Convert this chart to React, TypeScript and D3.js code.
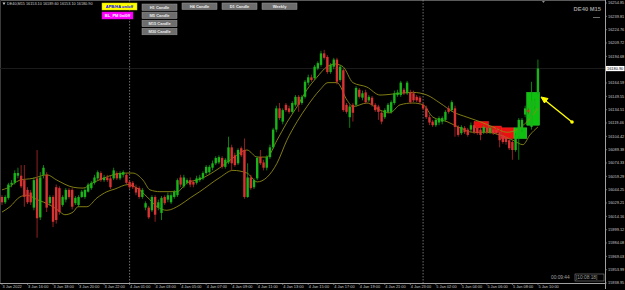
import React from 'react';
import * as d3 from 'd3';

// ---------- DATA ----------
const symbolInfo = 'DE40,M15  16153.10 16189.60 16153.10 16180.90';
const chartTitle = 'DE40 M15';
const timerText = '00:09:44';
const serverTime = '[10:08:18]';

// [open, high, low, close], M15 bars from 3 Jan 2022 14:00 to 5 Jan 2022 10:00
const ohlc: number[][] = [
  [16036,16038,16027,16030],[16030,16038,16028,16036],[16035,16052,16033,16050],[16050,16055,16047,16052],
  [16052,16066,16050,16063],[16060,16069,16057,16063],[16060,16072,16046,16048],[16055,16072,16025,16036],
  [16044,16047,16028,16030],[16041,16044,16027,16030],[16024,16058,16021,16055],[16057,16089,15990,16012],
  [16013,16064,16010,16058],[16061,16072,16057,16069],[16061,16064,16019,16024],[16029,16038,16026,16036],
  [16036,16038,16002,16008],[16047,16050,16006,16010],[16046,16048,16016,16019],[16027,16038,16025,16036],
  [16033,16046,16030,16044],[16044,16046,16034,16036],[16044,16046,16022,16025],[16029,16037,16027,16035],
  [16027,16038,16025,16036],[16036,16044,16035,16042],[16036,16046,16034,16044],[16042,16052,16041,16050],
  [16046,16054,16044,16052],[16052,16061,16050,16058],[16057,16066,16055,16064],[16063,16065,16053,16055],
  [16055,16061,16053,16058],[16058,16061,16053,16055],[16057,16060,16045,16047],[16057,16069,16055,16066],
  [16063,16065,16055,16057],[16057,16065,16055,16063],[16061,16066,16058,16064],[16061,16063,16050,16052],
  [16053,16055,16045,16047],[16052,16054,16045,16047],[16047,16050,16038,16041],[16046,16048,16034,16036],
  [16036,16046,16034,16044],[16024,16031,16021,16029],[16024,16026,16011,16013],[16021,16038,16019,16036],
  [16036,16038,16008,16016],[16024,16033,16021,16030],[16018,16037,16010,16035],[16036,16038,16027,16029],
  [16033,16041,16030,16038],[16030,16041,16028,16038],[16036,16044,16034,16042],[16038,16057,16036,16055],
  [16058,16061,16047,16050],[16048,16061,16046,16058],[16052,16057,16050,16055],[16055,16058,16047,16050],
  [16053,16055,16047,16050],[16052,16060,16050,16057],[16055,16061,16053,16058],[16057,16065,16055,16063],
  [16063,16072,16061,16070],[16064,16072,16062,16070],[16069,16077,16066,16074],[16074,16082,16072,16080],
  [16075,16083,16073,16081],[16080,16082,16068,16070],[16070,16080,16068,16078],[16075,16104,16073,16092],
  [16092,16095,16066,16074],[16083,16086,16070,16072],[16074,16091,16072,16089],[16091,16093,16081,16083],
  [16089,16102,16034,16036],[16036,16074,16035,16058],[16058,16061,16044,16046],[16047,16057,16045,16055],
  [16057,16082,16055,16080],[16081,16089,16072,16074],[16075,16078,16066,16069],[16069,16083,16066,16081],
  [16081,16095,16079,16092],[16092,16114,16090,16112],[16112,16139,16109,16136],[16136,16142,16123,16125],
  [16121,16136,16118,16134],[16140,16142,16132,16134],[16136,16139,16130,16132],[16132,16144,16130,16142],
  [16140,16151,16138,16149],[16149,16151,16132,16140],[16142,16151,16140,16149],[16149,16168,16147,16166],
  [16165,16174,16162,16171],[16171,16174,16166,16168],[16170,16185,16168,16183],[16181,16189,16179,16187],
  [16185,16201,16183,16198],[16198,16202,16191,16193],[16194,16196,16175,16177],[16177,16187,16175,16185],
  [16183,16193,16180,16191],[16191,16193,16163,16166],[16168,16185,16166,16183],[16179,16181,16132,16134],
  [16140,16142,16130,16132],[16126,16140,16114,16138],[16140,16142,16121,16131],[16140,16161,16138,16159],
  [16157,16159,16147,16149],[16148,16156,16145,16153],[16154,16157,16141,16143],[16145,16151,16143,16149],
  [16148,16150,16138,16140],[16140,16142,16132,16134],[16138,16140,16123,16132],[16131,16133,16118,16121],
  [16126,16136,16124,16134],[16132,16142,16130,16140],[16132,16145,16130,16143],[16142,16156,16140,16153],
  [16151,16157,16149,16154],[16151,16167,16149,16165],[16157,16159,16151,16153],[16153,16167,16151,16165],
  [16154,16157,16141,16143],[16153,16156,16143,16145],[16149,16151,16143,16145],[16148,16150,16141,16143],
  [16140,16142,16134,16136],[16136,16139,16124,16126],[16126,16129,16117,16120],[16121,16123,16115,16117],
  [16117,16125,16115,16123],[16120,16127,16117,16125],[16121,16127,16118,16125],[16123,16134,16121,16132],
  [16136,16139,16130,16132],[16134,16145,16132,16143],[16136,16139,16104,16115],[16115,16117,16104,16106],
  [16108,16117,16106,16115],[16114,16116,16107,16109],[16112,16114,16104,16106],[16112,16120,16109,16117],
  [16117,16120,16107,16109],[16114,16116,16106,16108],[16112,16114,16100,16106],[16109,16117,16107,16115],
  [16114,16116,16107,16109],[16109,16116,16107,16114],[16112,16114,16106,16108],[16112,16114,16106,16108],
  [16109,16112,16092,16100],[16106,16108,16096,16098],[16104,16106,16095,16098],[16100,16102,16089,16091],
  [16098,16100,16078,16089],[16089,16108,16087,16106],[16104,16125,16078,16123],[16112,16125,16109,16123],
  [16129,16139,16126,16136],[16134,16136,16130,16132],[16115,16166,16112,16145],[16138,16147,16135,16145],
  [16154,16191,16152,16180.9],
];

// [bar index, price]
const upperMA: number[][] = [
  [0,16044],[1.6,16046],[5.6,16055],[9.7,16057],[14.1,16061],[17.2,16055],[22.3,16047],[25.4,16046],
  [28.5,16052],[31.7,16057],[34.8,16061],[39.2,16063],[41,16063],[44.2,16055],[46.4,16044],[49.5,16042],
  [54.9,16042],[58,16052],[62,16056],[68.3,16069],[72.4,16080],[76.8,16089],[80,16081],[83,16081],
  [86.2,16100],[89.3,16120],[92.5,16138],[95.6,16157],[98.7,16171],[101.9,16183],[104.4,16186],[106.9,16183],
  [110,16165],[114.4,16160],[118.5,16151],[124.8,16153],[128.8,16154],[133.2,16151],[137.3,16142],[141.4,16132],
  [145.8,16126],[149.8,16121],[153.9,16115],[158.3,16109],[161.4,16112],[164.6,16121],[168,16136],
];
const lowerMA: number[][] = [
  [0,16019],[2.5,16025],[5.6,16036],[7.8,16038],[11,16033],[15,16027],[17.6,16021],[19.7,16016],
  [22.3,16019],[23.8,16025],[26.6,16025],[29.8,16035],[32.9,16042],[35.4,16045],[39.5,16050],[42.3,16046],
  [45.5,16036],[48.6,16025],[51.7,16021],[55.8,16027],[59,16035],[62,16042],[68.3,16058],[72.4,16066],
  [76.8,16063],[80,16053],[83,16058],[86.2,16074],[89.3,16100],[92.5,16121],[95.6,16138],[99.7,16157],
  [102.2,16165],[105,16165],[108.2,16145],[110,16138],[114.4,16142],[118.5,16134],[121.6,16131],[124.8,16140],
  [128.8,16142],[132,16140],[135.1,16126],[139.5,16121],[143.6,16114],[147.6,16109],[152,16109],[156,16106],
  [160.2,16100],[163.3,16095],[165.5,16106],[168,16115],
];

// H1 candle boxes: [first bar, last bar, open, close]
const hourBoxes: number[][] = [
  [148,152.5,16121,16114],[152.5,156.5,16116,16109],[156.5,160.5,16114,16102],
  [160.5,164.5,16102,16114],[164.5,168.5,16117,16154],
];

const timeLabels = ['3 Jan 2022','3 Jan 16:00','3 Jan 18:00','3 Jan 20:00','3 Jan 22:00','4 Jan 01:00',
  '4 Jan 03:00','4 Jan 05:00','4 Jan 07:00','4 Jan 09:00','4 Jan 11:00','4 Jan 13:00','4 Jan 15:00',
  '4 Jan 17:00','4 Jan 19:00','4 Jan 21:00','4 Jan 23:00','5 Jan 02:00','5 Jan 04:00','5 Jan 06:00',
  '5 Jan 08:00','5 Jan 10:00'];
const timeLabelBars = [0,8,16,24,32,40,48,56,64,72,80,88,96,104,112,120,128,136,144,152,160,168];
const daySeparators = [40,132];

const priceTicks = [16254.85,16239.81,16224.76,16209.72,16194.68,16179.63,16164.59,16149.55,16134.51,
  16119.46,16104.42,16089.38,16074.33,16059.29,16044.25,16029.21,16014.16,15999.12,15984.08,15969.03,
  15953.99,15938.95];

const leftButtons = ['APB/HA on/off','BL_PM 0n/0ff'];
const candleButtons = ['H1 Candle','M5 Candle','M15 Candle','M30 Candle'];
const topButtons = ['H4 Candle','D1 Candle','Weekly'];

// ---------- LAYOUT ----------
const W = 625, H = 290;
const axisX = 605, axisY = 283;
const FONT = '"Liberation Sans", Arial, sans-serif';

const x = d3.scaleLinear().domain([0, 168]).range([2, 2 + 3.19 * 168]);
const y = d3.scaleLinear().domain([15938.95, 16254.85]).range([283, 3]);

const GREEN = '#19b419', GREEN_W = '#11a011';
const RED = '#d83232', RED_W = '#b82828';
const MA_COL = '#8e8a16';

export default function App() {
  const lineGen = d3.line<number[]>().x(d => x(d[0])).y(d => y(d[1])).curve(d3.curveMonotoneX);
  const last = ohlc[ohlc.length - 1][3];
  const bw = 2.4;
  return (
    <svg width={W} height={H} style={{ position: 'absolute', left: 0, top: 0, background: '#000' }}
      fontFamily={FONT}>
      <rect x={0} y={0} width={W} height={H} fill="#000" />
      {/* frame */}
      <line x1={0} y1={0.5} x2={axisX} y2={0.5} stroke="#5a5a5a" strokeWidth={1} />
      <line x1={0.5} y1={0} x2={0.5} y2={axisY} stroke="#3a3a3a" strokeWidth={1} />
      {/* bid line */}
      <line x1={0} x2={axisX} y1={y(last)} y2={y(last)} stroke="#1c1c1c" strokeWidth={1} />
      {/* day separators */}
      {daySeparators.map(b => (
        <line key={b} x1={x(b)} x2={x(b)} y1={0} y2={axisY} stroke="#8a8a8a" strokeWidth={0.8}
          strokeDasharray="1.5,1.5" />
      ))}
      {/* hour boxes */}
      {hourBoxes.map((b, i) => {
        const up = b[3] > b[2];
        return (
          <rect key={i} x={x(b[0])} width={x(b[1]) - x(b[0])} y={y(Math.max(b[2], b[3]))}
            height={Math.abs(y(b[2]) - y(b[3]))} fill={up ? '#10c010' : '#ee1010'}
            stroke={up ? '#30e030' : '#ff3030'} strokeWidth={0.5} />
        );
      })}
      {/* MA lines */}
      <path d={lineGen(upperMA) || ''} fill="none" stroke={MA_COL} strokeWidth={0.9} />
      <path d={lineGen(lowerMA) || ''} fill="none" stroke={MA_COL} strokeWidth={0.9} />
      {/* candles */}
      {ohlc.map((d, i) => {
        const [o, h, l, c] = d;
        const up = c >= o;
        const top = y(Math.max(o, c));
        const hgt = Math.max(1, Math.abs(y(o) - y(c)));
        return (
          <g key={i}>
            <line x1={x(i)} x2={x(i)} y1={y(h)} y2={y(l)} stroke={up ? GREEN_W : RED_W} strokeWidth={0.8} />
            <rect x={x(i) - bw / 2} y={top} width={bw} height={hgt} fill={up ? GREEN : RED} />
          </g>
        );
      })}
      {/* yellow arrow */}
      <line x1={572} y1={122} x2={544} y2={99.5} stroke="#ffff00" strokeWidth={1.4} />
      <path d="M541,97 L548,98.5 L544.5,103 Z" fill="#ffff00" stroke="#ffff00" strokeWidth={1} />
      <circle cx={572} cy={122} r={1.8} fill="#ffff00" />
      {/* axes */}
      <line x1={axisX + 0.5} x2={axisX + 0.5} y1={0} y2={axisY + 6} stroke="#a0a0a0" strokeWidth={1} />
      <line x1={0} x2={axisX} y1={axisY + 0.5} y2={axisY + 0.5} stroke="#a0a0a0" strokeWidth={1} />
      {priceTicks.map((p, k) => (
        <g key={k}>
          <line x1={axisX} x2={axisX + 2} y1={y(p)} y2={y(p)} stroke="#a0a0a0" strokeWidth={0.6} />
          <text x={axisX + 3} y={y(p) + 1.4} fontSize={3.9} fill="#c8c8c8">{p.toFixed(2)}</text>
        </g>
      ))}
      <rect x={axisX + 1} y={y(last) - 2.6} width={18.5} height={5.2} fill="#ffffff" />
      <text x={axisX + 2} y={y(last) + 1.4} fontSize={3.9} fill="#000">{last.toFixed(2)}</text>
      {timeLabels.map((t, k) => (
        <g key={t}>
          <line x1={x(timeLabelBars[k])} x2={x(timeLabelBars[k])} y1={axisY} y2={axisY + 2} stroke="#a0a0a0" strokeWidth={0.6} />
          <text x={x(timeLabelBars[k]) + 0.5} y={axisY + 5} fontSize={3.9} fill="#c8c8c8">{t}</text>
        </g>
      ))}
      {/* shift marker */}
      <path d={`M${x(168) + 4},1 L${x(168) + 7},1 L${x(168) + 5.5},3 Z`} fill="#8a8a8a" />
      {/* header text */}
      <path d="M2.5,2.5 L5.5,2.5 L4,5 Z" fill="#c8c8c8" />
      <text x={7} y={5.3} fontSize={3.8} fill="#d0d0d0">{symbolInfo}</text>
      {leftButtons.map((b, k) => (
        <g key={b}>
          <rect x={102} y={3 + k * 9} width={k === 0 ? 35 : 31} height={7} fill={k === 0 ? '#ffff00' : '#ff00ff'}
            stroke={k === 0 ? '#d0d000' : '#d000d0'} strokeWidth={0.5} />
          <text x={102 + (k === 0 ? 17.5 : 15.5)} y={7.8 + k * 9} fontSize={4} fontWeight="bold" textAnchor="middle"
            fill={k === 0 ? '#0000ff' : '#ffffff'}>{b}</text>
        </g>
      ))}
      {candleButtons.map((b, k) => (
        <g key={b}>
          <rect x={142} y={4 + k * 8.1} width={35} height={6.5} fill="#6e6e6e" stroke="#9a9a9a" strokeWidth={0.5} />
          <text x={159.5} y={8.6 + k * 8.1} fontSize={4} fontWeight="bold" textAnchor="middle" fill="#ececec">{b}</text>
        </g>
      ))}
      {topButtons.map((b, k) => (
        <g key={b}>
          <rect x={182 + k * 40} y={3} width={35} height={6.5} fill="#6e6e6e" stroke="#9a9a9a" strokeWidth={0.5} />
          <text x={199.5 + k * 40} y={7.6} fontSize={4} fontWeight="bold" textAnchor="middle" fill="#ececec">{b}</text>
        </g>
      ))}
      <text x={601} y={11} fontSize={5.8} fontWeight="bold" textAnchor="end" fill="#9a9a9a">{chartTitle}</text>
      <line x1={593} x2={600} y1={17.5} y2={17.5} stroke="#9a9a9a" strokeWidth={0.7} />
      {/* timer */}
      <text x={551} y={279.2} fontSize={4.8} fill="#a0a0a0">{timerText}</text>
      <rect x={575} y={274} width={29} height={7} fill="none" stroke="#a0a0a0" strokeWidth={0.5} />
      <text x={576} y={279.2} fontSize={4.8} fill="#a0a0a0">{serverTime}</text>
    </svg>
  );
}
